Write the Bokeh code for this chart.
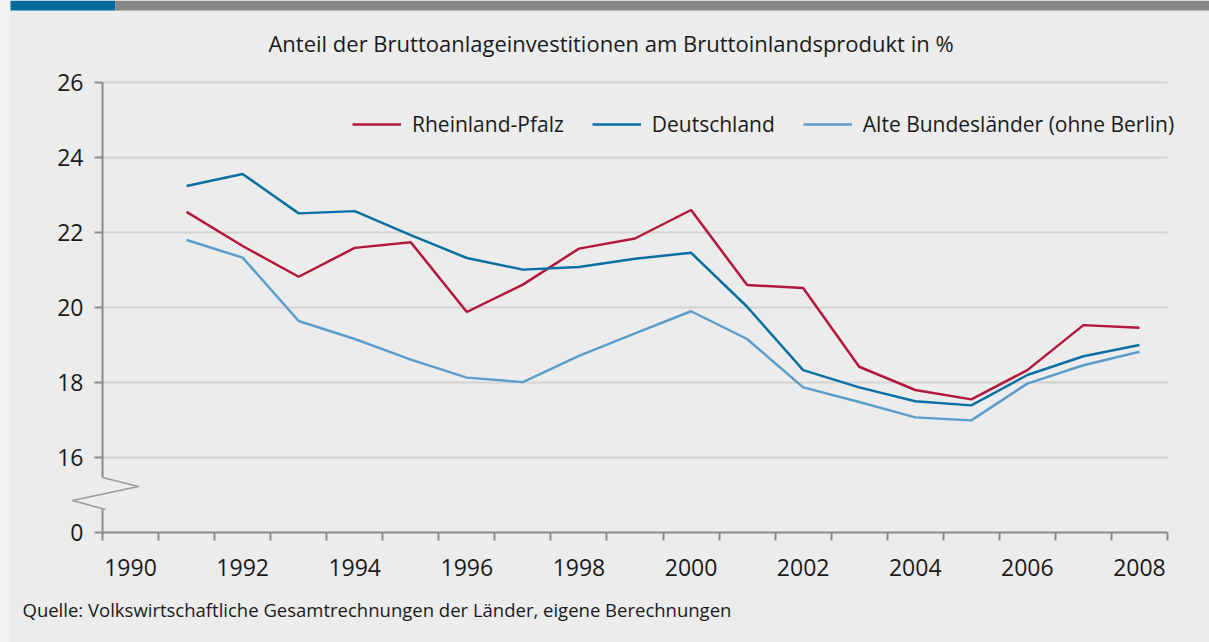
from bokeh.plotting import figure
from bokeh.models import FixedTicker, BoxAnnotation, Label, Arrow
from bokeh.embed import file_html
from bokeh.resources import INLINE

# ---------------- data ----------------
years = list(range(1991, 2009))
rlp = [22.55, 21.64, 20.82, 21.59, 21.74, 19.88, 20.61, 21.57, 21.84, 22.60,
       20.60, 20.52, 18.42, 17.80, 17.55, 18.33, 19.53, 19.46]
de = [23.24, 23.56, 22.51, 22.57, 21.93, 21.32, 21.01, 21.08, 21.30, 21.46,
      20.02, 18.33, 17.87, 17.50, 17.39, 18.20, 18.70, 19.00]
abl = [21.80, 21.33, 19.64, 19.16, 18.61, 18.13, 18.01, 18.71, 19.31, 19.90,
       19.16, 17.87, 17.48, 17.07, 16.99, 17.97, 18.46, 18.82]
series_names = ["Rheinland-Pfalz", "Deutschland", "Alte Bundesländer (ohne Berlin)"]
x_label_years = [1990, 1992, 1994, 1996, 1998, 2000, 2002, 2004, 2006, 2008]
y_ticks = [14, 16, 18, 20, 22, 24, 26]
y_tick_labels = ["0", "16", "18", "20", "22", "24", "26"]
grid_ticks = [16, 18, 20, 22, 24, 26]
title_text = "Anteil der Bruttoanlageinvestitionen am Bruttoinlandsprodukt in %"
source_text = "Quelle: Volkswirtschaftliche Gesamtrechnungen der Länder, eigene Berechnungen"

# ---------------- layout ----------------
W, H = 1209, 642
X0, X1 = 1990, 2009          # category boundaries shown on the axis
Y0, Y1 = 14, 26              # 14 is drawn as the broken-axis "0"
PX0, PX1 = 102, 1167         # pixel positions of X0 / X1
PY0, PY1 = 532, 82           # pixel positions of Y0 / Y1
KX = (PX1 - PX0) / (X1 - X0)
KY = (PY0 - PY1) / (Y1 - Y0)
XS, XE = X0 - PX0 / KX, X0 + (W - PX0) / KX
YB, YT = Y0 - (H - PY0) / KY, Y1 + PY1 / KY

def fx(px):
    return XS + px / KX

def fy(py):
    return YT - py / KY

BG = "#ececec"
AXIS = "#8a8a8a"
GRID = "#d2d2d2"
TXT = "#1a1a1a"
FONT = "Open Sans"
colors = ["#b3173b", "#0a70a3", "#5b9dcb"]

p = figure(width=W, height=H, x_range=(XS, XE), y_range=(YB, YT),
           output_backend="svg", toolbar_location=None,
           min_border_left=0, min_border_right=0,
           min_border_top=0, min_border_bottom=0)
p.background_fill_color = BG
p.border_fill_color = BG
p.outline_line_color = None
p.title.visible = False
p.grid.visible = False

# left light strip and top bar
p.add_layout(BoxAnnotation(left=fx(0), right=fx(10), top=fy(0), bottom=fy(H),
                           fill_color="#f2f2f2", fill_alpha=1, line_color=None))
p.add_layout(BoxAnnotation(left=fx(10), right=fx(115), top=fy(0), bottom=fy(10),
                           fill_color="#006a9e", fill_alpha=1, line_color=None))
p.add_layout(BoxAnnotation(left=fx(115), right=fx(W), top=fy(0), bottom=fy(10),
                           fill_color="#878787", fill_alpha=1, line_color=None))

# horizontal grid lines
p.segment(x0=[X0] * len(grid_ticks), y0=grid_ticks, x1=[X1] * len(grid_ticks), y1=grid_ticks,
          line_color=GRID, line_width=2)

xs = [y + 0.5 for y in years]
for vals, name, col in zip([rlp, de, abl], series_names, colors):
    p.line(xs, vals, line_color=col, line_width=2.5, legend_label=name)

# x axis
xa = p.xaxis[0]
xa.fixed_location = Y0
xa.bounds = (X0, X1)
xa.ticker = FixedTicker(ticks=[y + 0.5 for y in x_label_years],
                        minor_ticks=list(range(X0, X1 + 1)))
xa.major_label_overrides = {y + 0.5: str(y) for y in x_label_years}
xa.major_tick_out = 0
xa.major_tick_in = 0
xa.major_tick_line_color = None
xa.minor_tick_out = 8
xa.minor_tick_in = 0
xa.minor_tick_line_color = AXIS
xa.minor_tick_line_width = 2
xa.axis_line_color = AXIS
xa.axis_line_width = 2
xa.major_label_standoff = 18
xa.major_label_text_font = FONT
xa.major_label_text_font_size = "23px"
xa.major_label_text_color = TXT

# y axis
ya = p.yaxis[0]
ya.fixed_location = X0
ya.bounds = (Y0, Y1)
ya.ticker = FixedTicker(ticks=y_ticks)
ya.major_label_overrides = {t: l for t, l in zip(y_ticks, y_tick_labels)}
ya.major_tick_out = 8
ya.major_tick_in = 0
ya.major_tick_line_color = AXIS
ya.major_tick_line_width = 2
ya.minor_tick_line_color = None
ya.axis_line_color = None
ya.major_label_standoff = 11
ya.major_label_text_font = FONT
ya.major_label_text_font_size = "23px"
ya.major_label_text_color = TXT

# broken y-axis line and zigzag
p.add_layout(Arrow(x_start=X0, y_start=Y0, x_end=X0, y_end=fy(509), end=None,
                   line_color=AXIS, line_width=2))
p.add_layout(Arrow(x_start=X0, y_start=fy(477), x_end=X0, y_end=Y1, end=None,
                   line_color=AXIS, line_width=2))
zz = [(102, 477), (138, 486), (72, 500), (105, 509)]
for (a, b), (c, d) in zip(zz[:-1], zz[1:]):
    p.add_layout(Arrow(x_start=fx(a), y_start=fy(b), x_end=fx(c), y_end=fy(d),
                       end=None, line_color="#9a9a9a", line_width=1.5))

# legend
lg = p.legend[0]
lg.orientation = "horizontal"
lg.location = (352, 503)
lg.padding = 0
lg.margin = 0
lg.spacing = 28
lg.glyph_width = 49
lg.glyph_height = 30
lg.label_height = 30
lg.label_standoff = 11
lg.label_text_font = FONT
lg.label_text_font_size = "21px"
lg.label_text_color = TXT
lg.border_line_color = None
lg.background_fill_alpha = 0

# title and source
p.add_layout(Label(x=fx(610.5), y=fy(42), text=title_text, text_align="center",
                   text_baseline="alphabetic", text_font=FONT, text_font_size="22px",
                   text_color=TXT))
p.add_layout(Label(x=fx(22), y=fy(609), text=source_text, text_align="left",
                   text_baseline="alphabetic", text_font=FONT, text_font_size="18.5px",
                   text_color=TXT))

open("out.html", "w").write(file_html(p, INLINE))
